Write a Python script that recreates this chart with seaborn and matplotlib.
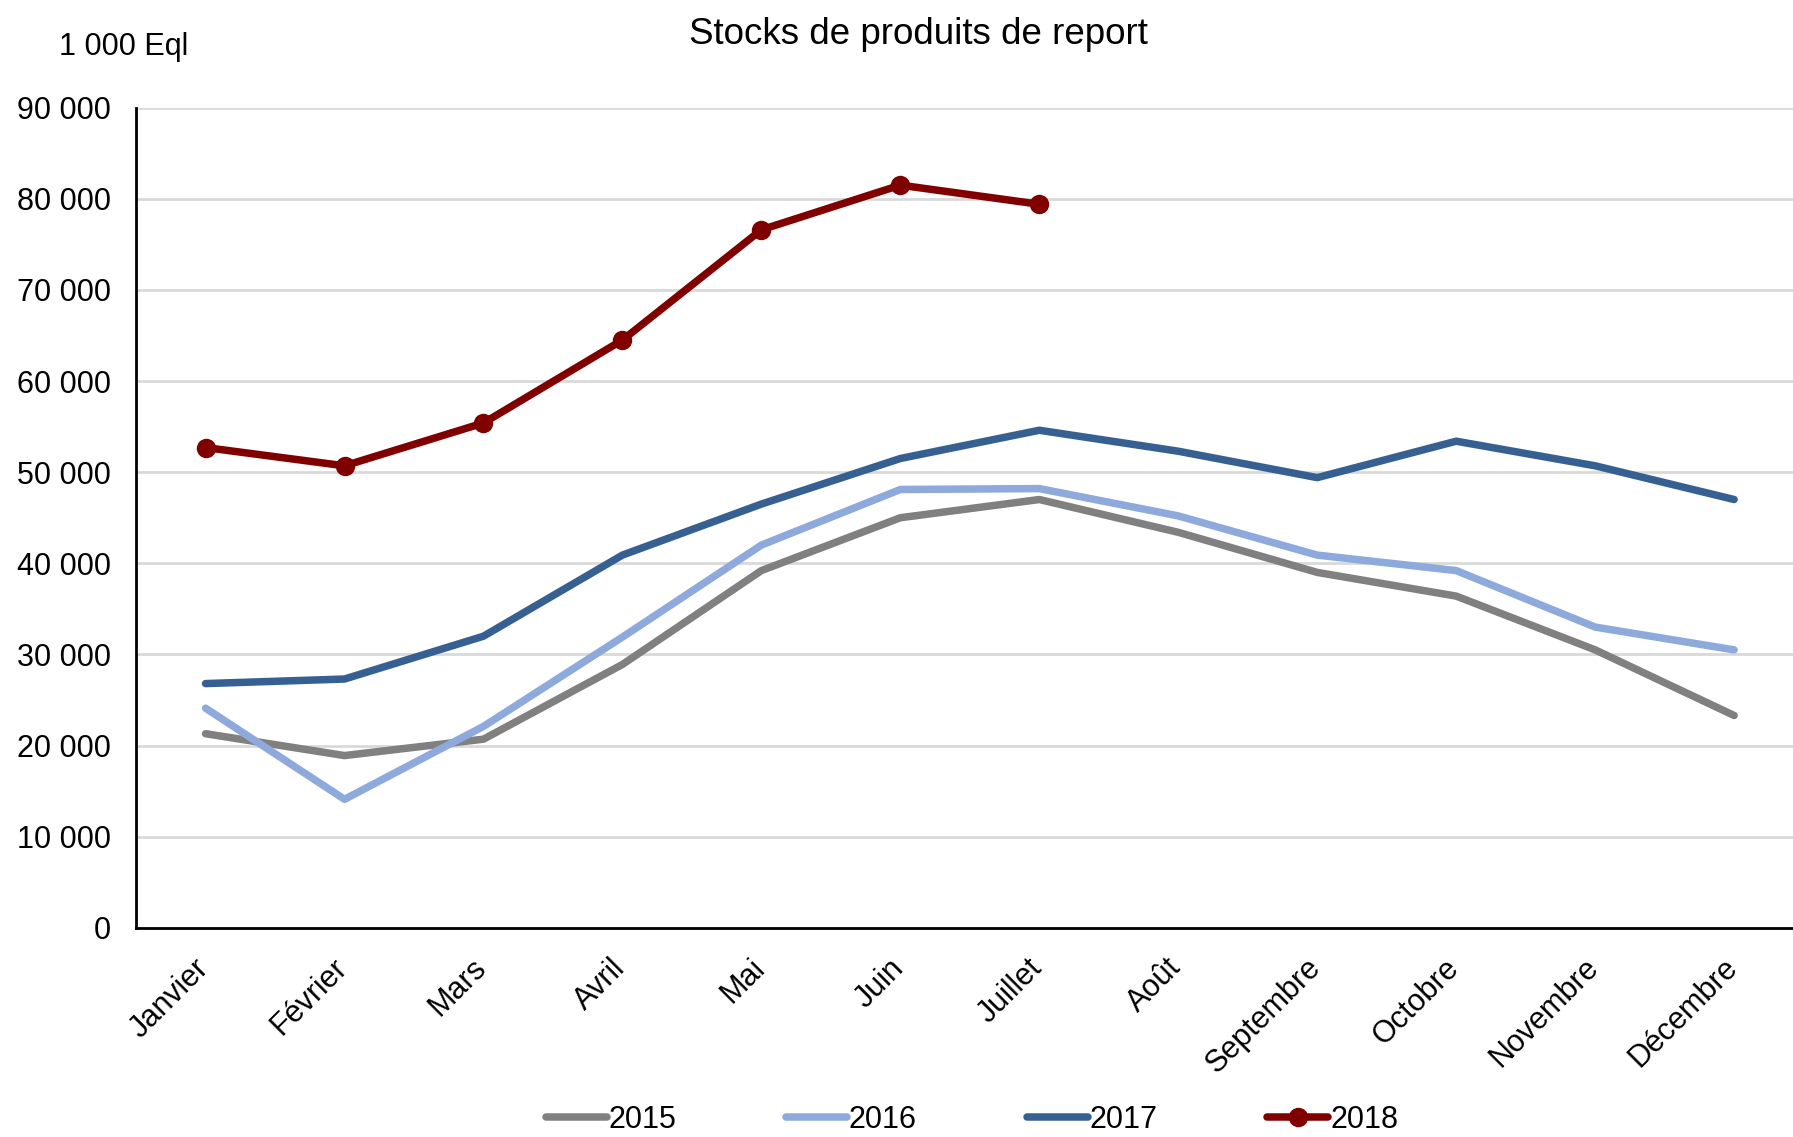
import numpy as np
import pandas as pd
import matplotlib
matplotlib.use("Agg")
import matplotlib.pyplot as plt
import matplotlib.transforms as mtransforms
from matplotlib.lines import Line2D
import seaborn as sns

# Data (1 000 Eql)
mois = ["Janvier", "Février", "Mars", "Avril", "Mai", "Juin", "Juillet",
        "Août", "Septembre", "Octobre", "Novembre", "Décembre"]
stocks_2015 = [21300, 18900, 20700, 28900, 39200, 45000, 47000, 43400, 39000, 36400, 30500, 23300]
stocks_2016 = [24100, 14100, 22100, 31900, 42000, 48100, 48200, 45200, 40900, 39200, 33000, 30500]
stocks_2017 = [26800, 27300, 32000, 40900, 46500, 51500, 54600, 52300, 49400, 53400, 50700, 47000]
stocks_2018 = [52700, 50700, 55400, 64500, 76600, 81500, 79400]

couleurs = {"2015": "#808080", "2016": "#8EA9DB", "2017": "#376092", "2018": "#800000"}

sns.set_style("white")
plt.rcParams["font.family"] = ["Liberation Sans", "DejaVu Sans"]
plt.rcParams["text.color"] = "black"
plt.rcParams["xtick.color"] = "black"
plt.rcParams["ytick.color"] = "black"

fig = plt.figure(figsize=(17.93, 11.37), dpi=100)
ax = fig.add_axes([0.0759, 0.184, 0.930, 0.7213])

series = {"2015": stocks_2015, "2016": stocks_2016, "2017": stocks_2017}
for annee, vals in series.items():
    df = pd.DataFrame({"mois": mois, "valeur": vals})
    sns.lineplot(data=df, x="mois", y="valeur", ax=ax, color=couleurs[annee],
                 linewidth=5.4, sort=False)

df18 = pd.DataFrame({"mois": mois[:len(stocks_2018)], "valeur": stocks_2018})
sns.lineplot(data=df18, x="mois", y="valeur", ax=ax, color=couleurs["2018"],
             linewidth=5.4, marker="o", markersize=14, markeredgewidth=0, sort=False)

ax.set_xlim(-0.5, 11.5)
ax.set_ylim(0, 90000)
ax.set_yticks(np.arange(0, 90001, 10000))
ax.set_yticklabels([f"{v:,}".replace(",", " ") for v in range(0, 90001, 10000)])
ax.yaxis.grid(True, color="#D9D9D9", linewidth=2)
ax.set_axisbelow(True)
ax.set_xlabel("")
ax.set_ylabel("")

ax.set_xticks(np.arange(12))
ax.set_xticklabels(mois, rotation=45, ha="right", rotation_mode="anchor")
ax.set_xticks(np.arange(-0.5, 12, 1), minor=True)
ax.tick_params(axis="x", which="major", length=0, pad=18, labelsize=22)
ax.tick_params(axis="x", which="minor", length=8, width=2, color="black", direction="out")
ax.tick_params(axis="y", length=8, width=2, color="black", direction="out", labelsize=22, pad=10)

# nudge the rotated month labels left so they end at the category centre
decalage = mtransforms.ScaledTranslation(-12 / 100, 0, fig.dpi_scale_trans)
for lab in ax.get_xticklabels():
    lab.set_transform(lab.get_transform() + decalage)

for s in ["top", "right"]:
    ax.spines[s].set_visible(False)
for s in ["left", "bottom"]:
    ax.spines[s].set_color("black")
    ax.spines[s].set_linewidth(2)

fig.text(0.512, 0.970, "Stocks de produits de report", ha="center", va="center", fontsize=26.5)
fig.text(0.033, 0.959, "1 000 Eql", ha="left", va="center", fontsize=22)

handles = [Line2D([], [], color=couleurs[a], linewidth=5.4,
                  marker="o" if a == "2018" else None, markersize=14, markeredgewidth=0)
           for a in ["2015", "2016", "2017", "2018"]]
fig.legend(handles, ["2015", "2016", "2017", "2018"], loc="center", ncol=4,
           bbox_to_anchor=(0.542, 0.015), frameon=False, fontsize=22,
           handlelength=2.0, handletextpad=0.05, columnspacing=3.6)

fig.savefig("out.png", dpi=100)
